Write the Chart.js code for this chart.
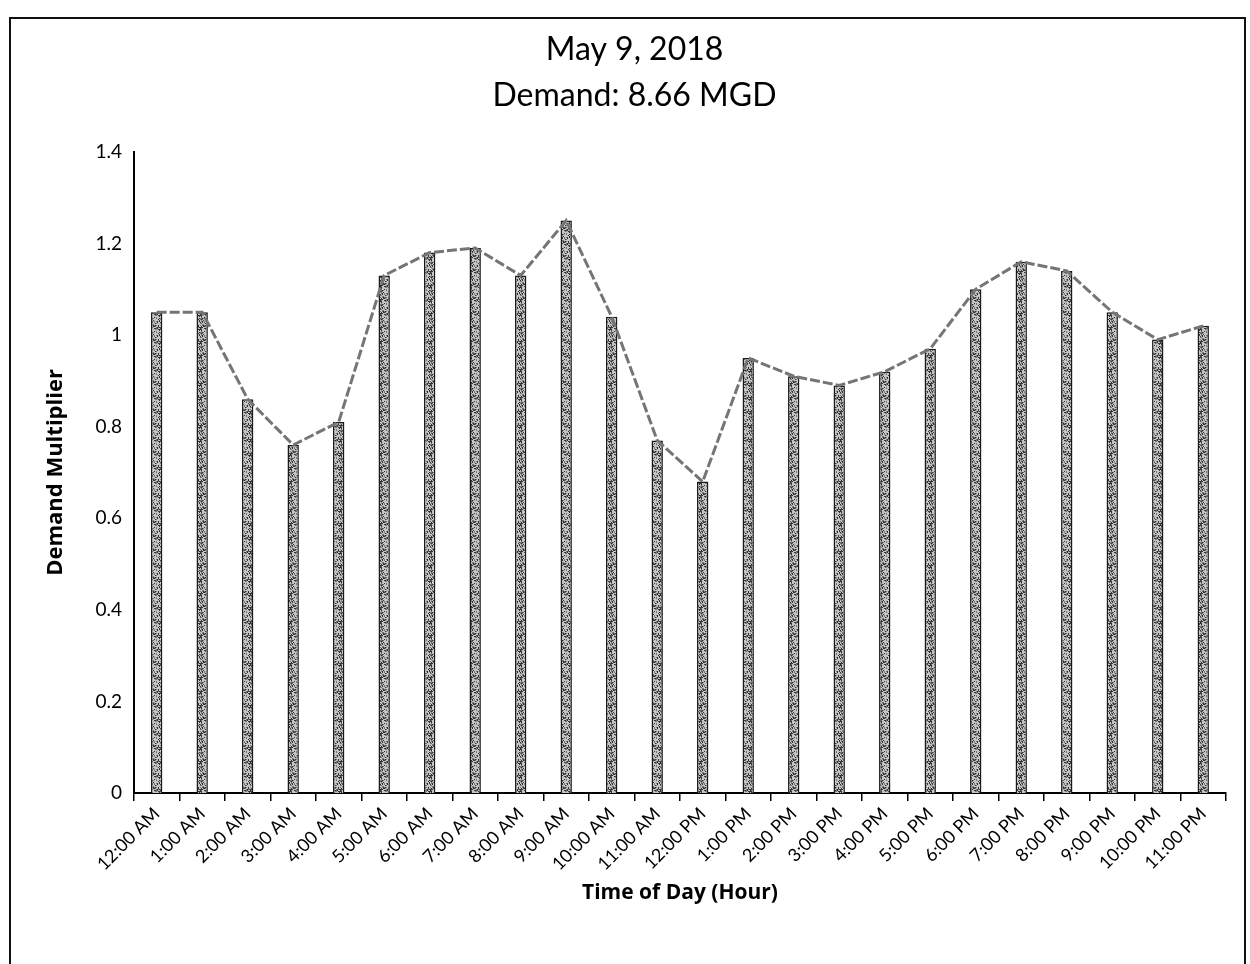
<!DOCTYPE html>
<html>
<head>
<meta charset="utf-8">
<script src="https://cdn.jsdelivr.net/npm/chart.js@4.4.0/dist/chart.umd.min.js"></script>
<style>
html, body { margin: 0; padding: 0; background: #fff; }
#wrap { position: relative; width: 1250px; height: 964px; overflow: hidden; }
#frame { position: absolute; left: 9px; top: 17px; width: 1237px; height: 980px; border: 2px solid #111; box-sizing: border-box; }
#grafico { position: absolute; left: 0; top: 0; }
</style>
</head>
<body>
<div id="wrap">
  <div id="frame"></div>
  <canvas id="grafico" width="1250" height="964"></canvas>
</div>
<script>
const horas = ["12:00 AM", "1:00 AM", "2:00 AM", "3:00 AM", "4:00 AM", "5:00 AM",
    "6:00 AM", "7:00 AM", "8:00 AM", "9:00 AM", "10:00 AM", "11:00 AM",
    "12:00 PM", "1:00 PM", "2:00 PM", "3:00 PM", "4:00 PM", "5:00 PM",
    "6:00 PM", "7:00 PM", "8:00 PM", "9:00 PM", "10:00 PM", "11:00 PM"];

const multiplicador = [1.05, 1.05, 0.86, 0.76, 0.81, 1.13, 1.18, 1.19, 1.13, 1.25, 1.04, 0.77,
    0.68, 0.95, 0.91, 0.89, 0.92, 0.97, 1.10, 1.16, 1.14, 1.05, 0.99, 1.02];

const titulo = ["May 9, 2018", "Demand: 8.66 MGD"];
const tituloY = "Demand Multiplier";
const tituloX = "Time of Day (Hour)";

const fonte = "Lato, 'Open Sans', sans-serif";
const fonteEixo = "'Open Sans', Lato, sans-serif";

// speckled grey fill like the scanned bars (fixed pattern, no randomness)
function textura() {
    const c = document.createElement('canvas');
    c.width = 10; c.height = 14;
    const g = c.getContext('2d');
    g.fillStyle = '#c4c4c4';
    g.fillRect(0, 0, 10, 14);
    for (let x = 0; x < 10; x++) {
        for (let y = 0; y < 14; y++) {
            const h = Math.abs(Math.sin(x * 12.9898 + y * 78.233) * 43758.5453) % 1;
            if (h < 0.4) {
                g.fillStyle = h < 0.18 ? '#333' : '#777';
                g.fillRect(x, y, 1, 1);
            }
        }
    }
    return g.createPattern(c, 'repeat');
}

const ctx = document.getElementById('grafico').getContext('2d');
const grafico = new Chart(ctx, {
    type: 'bar',
    data: {
        labels: horas,
        datasets: [{
            type: 'line',
            data: multiplicador,
            borderColor: '#757575',
            borderWidth: 3,
            borderDash: [10, 3],
            pointRadius: 0,
            tension: 0,
            fill: false
        }, {
            type: 'bar',
            data: multiplicador,
            backgroundColor: textura(),
            borderColor: '#1a1a1a',
            borderWidth: 1.5,
            categoryPercentage: 1,
            barPercentage: 0.25
        }]
    },
    options: {
        responsive: false,
        animation: false,
        devicePixelRatio: 1,
        layout: { padding: { left: 43, right: 24, top: 0, bottom: 58 } },
        plugins: {
            legend: { display: false },
            tooltip: { enabled: false },
            title: {
                display: true,
                text: titulo,
                color: '#000',
                font: { family: fonte, size: 32, weight: 'normal', lineHeight: 1.45 },
                padding: { top: 26, bottom: 33 }
            }
        },
        scales: {
            x: {
                offset: true,
                grid: { display: true, offset: true, drawOnChartArea: false, drawTicks: true, tickLength: 8, color: '#000', lineWidth: 1.5 },
                border: { display: true, color: '#000', width: 2 },
                ticks: { color: '#000', font: { family: fonte, size: 18 }, minRotation: 45, maxRotation: 45, autoSkip: false, padding: 2 },
                title: { display: true, text: tituloX, color: '#000', font: { family: fonteEixo, size: 21, weight: 'bold' }, padding: { top: 4, bottom: 0 } }
            },
            y: {
                min: 0,
                max: 1.4,
                ticks: {
                    stepSize: 0.2,
                    color: '#000',
                    font: { family: fonte, size: 19 },
                    padding: 12,
                    callback: v => String(Math.round(v * 10) / 10)
                },
                grid: { display: false, drawTicks: false },
                border: { display: true, color: '#000', width: 2 },
                title: { display: true, text: tituloY, color: '#000', font: { family: fonteEixo, size: 22, weight: 'bold' }, padding: { top: 0, bottom: 14 } }
            }
        }
    }
});
</script>
</body>
</html>
